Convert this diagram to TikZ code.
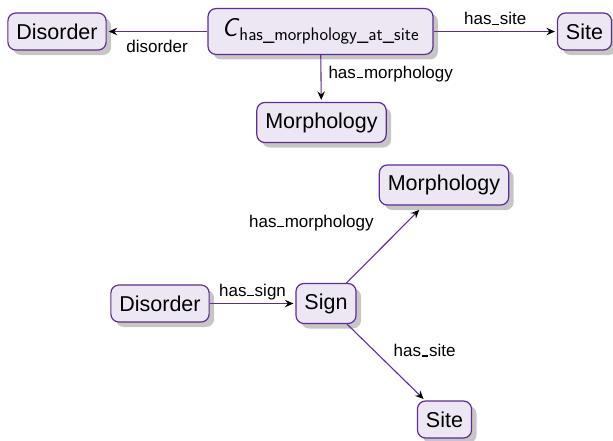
\documentclass[tikz,border=0pt]{standalone}
\usepackage{amsmath}
\usepackage{fontspec}
\setmainfont{Liberation Sans}
\usetikzlibrary{shadows,arrows.meta}
\definecolor{boxfill}{HTML}{EDE7F3}
\definecolor{boxline}{HTML}{5E2D91}
\newcommand\usc{\leavevmode\kern.04em\vbox{\hrule width.4em height .07em}\kern.04em}
\tikzset{
  cls/.style={draw=boxline, fill=boxfill, line width=1.2pt, rounded corners=8pt,
    inner xsep=8.5pt, inner ysep=10pt, minimum height=37pt,
    font=\fontsize{21.5}{25}\selectfont,
    drop shadow={shadow xshift=5pt, shadow yshift=-5pt, fill=black!28, opacity=0.8}},
  rel/.style={draw=boxline, line width=1.1pt, -{Stealth[black,length=8.5pt,width=7.5pt,inset=3pt]}, shorten >=2pt},
  lbl/.style={font=\fontsize{17}{20}\selectfont, inner sep=3pt}
}
\begin{document}
\begin{tikzpicture}[x=1pt,y=-1pt]
\useasboundingbox (0,0) rectangle (613,440);
% top
\node[cls, minimum height=43pt, minimum width=225pt, font=\fontsize{26}{30}\selectfont] (c) at (320.5,31.5)
  {$\textsf{\textit{C}}_{\textsf{has\_morphology\_at\_site}}$};
\node[cls] (d1) at (57,31.5) {Disorder};
\node[cls] (s1) at (584.5,31.5) {Site};
\node[cls] (m1) at (321.5,122.5) {Morphology};
% bottom
\node[cls] (m2) at (444,185) {Morphology};
\node[cls] (d2) at (160,303.5) {Disorder};
\node[cls] (sg) at (326,303.5) {Sign};
\node[cls] (s2) at (444.5,419.5) {Site};
% edges
\draw[rel] (c) -- node[lbl, below, yshift=-5pt] {disorder} (d1);
\draw[rel] (c) -- node[lbl, above, yshift=3pt] {has\usc site} (s1);
\draw[rel] (c) -- node[lbl, right, pos=0.4, xshift=4pt] {has\usc morphology} (m1);
\draw[rel] (d2) -- node[lbl, above] {has\usc sign} (sg);
\draw[rel, shorten >=6pt] (sg) -- node[lbl, above left, pos=0.45, xshift=-4pt, yshift=14pt] {has\usc morphology} (m2);
\draw[rel] (sg) -- node[lbl, above right, pos=0.5, xshift=4pt, yshift=2pt] {has\usc site} (s2);
\end{tikzpicture}
\end{document}
